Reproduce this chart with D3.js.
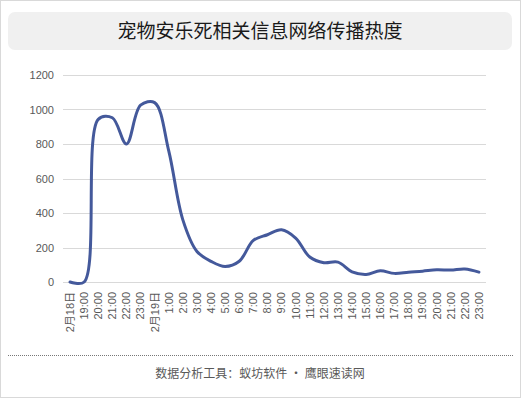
<!DOCTYPE html>
<html>
<head>
<meta charset="utf-8">
<script src="https://cdn.jsdelivr.net/npm/d3@7"></script>
<style>
  body { margin: 0; background: #fff; }
  svg { display: block; font-family: "Liberation Sans", "Noto Sans CJK SC", sans-serif; }
</style>
</head>
<body>
<script>
// chart data
var title = "宠物安乐死相关信息网络传播热度";
var footer = "数据分析工具：蚁坊软件 · 鹰眼速读网";
var categories = ["2月18日", "19:00", "20:00", "21:00", "22:00", "23:00", "2月19日",
  "1:00", "2:00", "3:00", "4:00", "5:00", "6:00", "7:00", "8:00", "9:00", "10:00",
  "11:00", "12:00", "13:00", "14:00", "15:00", "16:00", "17:00", "18:00", "19:00",
  "20:00", "21:00", "22:00", "23:00"];
var values = [0, 0, 943, 952, 800, 1025, 1040, 760, 360, 177, 120, 90, 120, 241,
  274, 303, 255, 145, 112, 115, 59, 44, 65, 50, 57, 63, 71, 69, 75, 57];
var yTicks = [0, 200, 400, 600, 800, 1000, 1200];

var W = 521, H = 398;
var margin = {top: 75, right: 35, bottom: 116, left: 63};
var width = W - margin.left - margin.right;
var height = H - margin.top - margin.bottom;

var svg = d3.select("body").append("svg")
  .attr("width", W)
  .attr("height", H);

// outer frame
svg.append("rect")
  .attr("x", 0.5).attr("y", 0.5)
  .attr("width", W - 1).attr("height", H - 1)
  .attr("fill", "#fff")
  .attr("stroke", "#d9d9d9");

// title box
svg.append("rect")
  .attr("x", 8).attr("y", 12)
  .attr("width", 504).attr("height", 38)
  .attr("rx", 7)
  .attr("fill", "#f0f0f0");
svg.append("text")
  .attr("x", 260).attr("y", 38)
  .attr("text-anchor", "middle")
  .style("font-family", "'Noto Sans CJK SC', sans-serif")
  .style("font-size", "19px")
  .attr("fill", "#1a1a1a")
  .text(title);

var g = svg.append("g")
  .attr("transform", "translate(" + margin.left + "," + margin.top + ")");

var xScale = d3.scaleBand()
  .domain(d3.range(categories.length))
  .range([0, width]);
var yScale = d3.scaleLinear()
  .domain([0, 1200])
  .range([height, 0]);

// gridlines
g.selectAll(".grid")
  .data(yTicks)
  .enter().append("line")
    .attr("x1", 0).attr("x2", width)
    .attr("y1", function(d) { return Math.round(yScale(d)) + 0.5; })
    .attr("y2", function(d) { return Math.round(yScale(d)) + 0.5; })
    .attr("stroke", "#d9d9d9");

// y axis labels
var yAxis = d3.axisLeft(yScale)
  .tickValues(yTicks)
  .tickFormat(d3.format("d"))
  .tickSize(0)
  .tickPadding(9);
g.append("g")
  .attr("class", "yaxis")
  .call(yAxis)
  .call(function(s) { s.select(".domain").remove(); })
  .selectAll("text")
    .attr("fill", "#595959")
    .style("font-size", "11px");

// x axis labels
var xAxis = d3.axisBottom(xScale)
  .tickFormat(function(i) { return categories[i]; })
  .tickSize(0);
var xg = g.append("g")
  .attr("class", "xaxis")
  .attr("transform", "translate(0," + height + ")")
  .call(xAxis);
xg.select(".domain").remove();
xg.selectAll("text")
  .attr("fill", "#595959")
  .style("font-size", "11px")
  .style("font-family", "'Liberation Sans', 'Noto Sans CJK SC', sans-serif")
  .attr("text-anchor", "end")
  .attr("dy", "0.35em")
  .attr("transform", "translate(0,10) rotate(-90)")
  .attr("y", 0).attr("x", 0);

// the line
var line = d3.line()
  .x(function(d, i) { return xScale(i) + xScale.bandwidth() / 2; })
  .y(function(d) { return yScale(d); })
  .curve(d3.curveCatmullRom.alpha(0.5));

g.append("path")
  .datum(values)
  .attr("fill", "none")
  .attr("stroke", "#44599b")
  .attr("stroke-width", 3)
  .attr("stroke-linejoin", "round")
  .attr("stroke-linecap", "round")
  .attr("d", line);

// footer
svg.append("line")
  .attr("x1", 8).attr("x2", 513)
  .attr("y1", 355.5).attr("y2", 355.5)
  .attr("stroke", "#777")
  .attr("stroke-dasharray", "1,1");
svg.append("text")
  .attr("x", 260).attr("y", 378)
  .attr("text-anchor", "middle")
  .style("font-family", "'Noto Sans CJK SC', sans-serif")
  .style("font-size", "12px")
  .attr("fill", "#595959")
  .text(footer);
</script>
</body>
</html>
